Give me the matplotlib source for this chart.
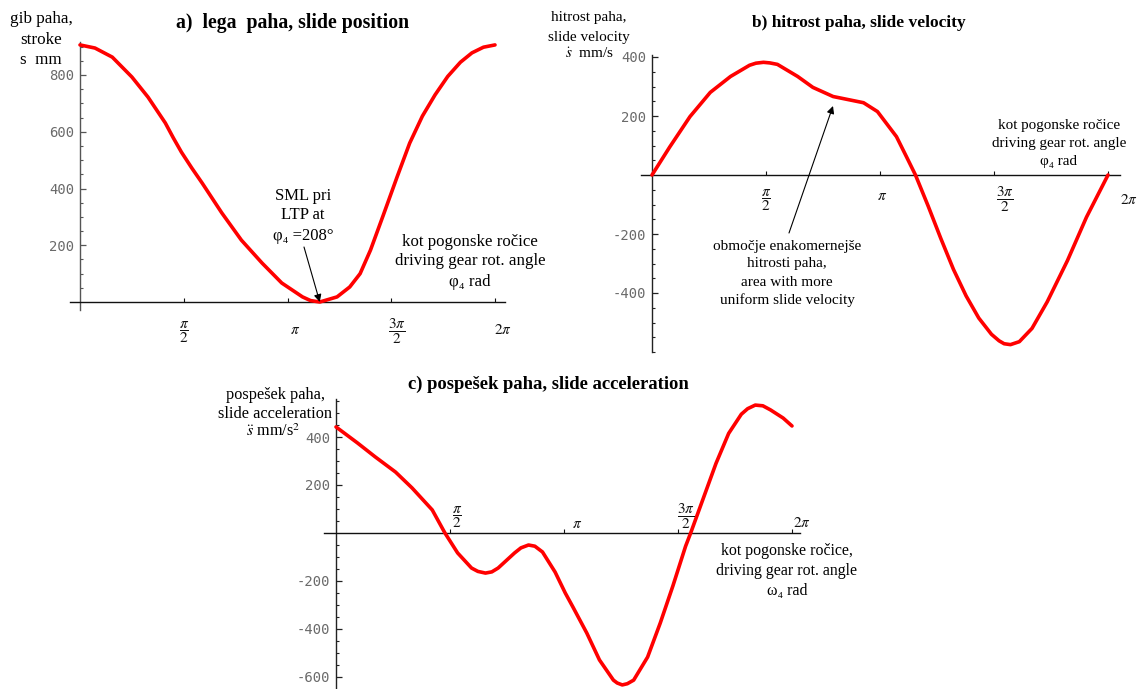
import numpy as np
import matplotlib
matplotlib.use("Agg")
import matplotlib.pyplot as plt
from matplotlib.ticker import FixedLocator

plt.rcParams["font.family"] = ["Liberation Serif", "DejaVu Serif"]
plt.rcParams["mathtext.fontset"] = "stix"
plt.rcParams["axes.unicode_minus"] = False

# ---- slide kinematics over one crank revolution (angle in degrees) ----
pos_angle_deg = [0, 13, 28, 45, 59, 74, 81, 88, 97, 106, 123, 140, 158, 175,
                 193, 200, 208, 223, 234, 243, 252, 263, 275, 286, 297, 308,
                 319, 330, 340, 350, 360]
pos_mm = [906, 895, 863, 793, 722, 631, 578, 528, 472, 419, 314, 218, 137, 67,
          18, 5, 0, 18, 53, 100, 183, 305, 440, 560, 655, 730,
          795, 845, 878, 898, 906]

vel_angle_deg = [0, 14, 30, 46, 62, 77, 82, 88, 93, 99, 115, 127, 143, 159,
                 167, 178, 193, 201, 208, 218, 228, 238, 248, 258, 268, 274,
                 278, 283, 290, 300, 312, 328, 343, 360]
vel_mm_s = [0, 95, 198, 280, 334, 372, 379, 382, 380, 375, 334, 297, 266, 252,
            245, 215, 130, 61, 0, -105, -215, -320, -410, -485, -540, -562,
            -572, -575, -565, -520, -430, -290, -143, 0]

acc_angle_deg = [0, 17, 31, 47, 60, 76, 86, 96, 107, 112, 118, 123, 128, 141,
                 146, 152, 157, 163, 173, 181, 187, 198, 208, 219, 222, 226,
                 230, 235, 246, 256, 266, 276, 280, 290, 300, 310, 320, 325,
                 331, 337, 343, 353, 360]
acc_mm_s2 = [442, 375, 317, 254, 188, 96, 0, -83, -146, -160, -167, -162, -146,
             -83, -62, -50, -55, -79, -163, -250, -308, -417, -529, -613, -625,
             -633, -628, -613, -517, -375, -220, -55, 0, 145, 290, 415, 495,
             518, 533, 530, 513, 479, 446]

ldc_angle_deg = 208  # lower dead centre of the slide

x_tick_values = [np.pi / 2, np.pi, 3 * np.pi / 2, 2 * np.pi]
x_tick_labels = [r"$\dfrac{\pi}{2}$", r"$\pi$", r"$\dfrac{3\pi}{2}$", r"$2\pi$"]
pos_yticks = [200, 400, 600, 800]
vel_yticks = [-400, -200, 200, 400]
acc_yticks = [-600, -400, -200, 200, 400]

W, H = 1138, 689
fig = plt.figure(figsize=(W / 100, H / 100), dpi=100)
fig.patch.set_facecolor("white")

RED = "#ff0000"
TICK_GRAY = "#6a6a6a"


def fpt(px, py):
    return (px / W, 1 - py / H)


def ftext(px, py, s, **kw):
    x, y = fpt(px, py)
    return fig.text(x, y, s, **kw)


def flines(px, ys, lines, **kw):
    # one text object per line so the line pitch is set exactly
    for py, s in zip(ys, lines):
        ftext(px, py, s, ha="center", va="center", **kw)


def make_panel(box, x0_px, x2pi_px, y0_px, yref_px, yref_val,
               yticks, minor_range, axis_color):
    left, right, top, bottom = box
    sx = (x2pi_px - x0_px) / (2 * np.pi)
    sy = (y0_px - yref_px) / yref_val
    ax = fig.add_axes([left / W, 1 - bottom / H, (right - left) / W,
                       (bottom - top) / H])
    ax.set_xlim((left - x0_px) / sx, (right - x0_px) / sx)
    ax.set_ylim((y0_px - bottom) / sy, (y0_px - top) / sy)
    ax.patch.set_visible(False)
    for s in ("top", "right"):
        ax.spines[s].set_visible(False)
    ax.spines["left"].set_position(("data", 0))
    ax.spines["bottom"].set_position(("data", 0))
    ax.spines["left"].set_color(axis_color)
    ax.spines["bottom"].set_color("#111111")
    ax.spines["left"].set_linewidth(1.0)
    ax.spines["bottom"].set_linewidth(1.0)

    ax.set_yticks(yticks, [str(v) for v in yticks])
    lo, hi, step = minor_range
    ax.yaxis.set_minor_locator(FixedLocator(
        [v for v in range(lo, hi + 1, step) if v not in yticks and v != 0]))
    ax.tick_params(axis="y", which="major", direction="in", length=4,
                   width=0.9, color=axis_color, labelsize=10,
                   labelcolor=TICK_GRAY, pad=4,
                   labelfontfamily="DejaVu Sans Mono")
    ax.tick_params(axis="y", which="minor", direction="in", length=2.3,
                   width=0.8, color=axis_color)

    ax.set_xticks(x_tick_values)
    ax.tick_params(axis="x", which="major", direction="in", length=3,
                   width=0.8, color="#111111", labelbottom=False)
    return ax


def tick_text(ax, offsets):
    for val, lab, (dx, dy) in zip(x_tick_values, x_tick_labels, offsets):
        ax.annotate(lab, xy=(val, 0), xytext=(dx, dy),
                    textcoords="offset pixels", ha="center", va="center",
                    fontsize=11, color="#111111")


def curve(ax, ang, vals):
    ax.plot(np.deg2rad(ang), vals, color=RED, lw=2.6,
            solid_capstyle="round", solid_joinstyle="round",
            clip_on=False, zorder=3)


# ---------------- a) slide position ----------------
ax_a = make_panel((70, 505, 42, 310), 80, 495, 302, 75, 800,
                  pos_yticks, (50, 900, 50), "#555555")
curve(ax_a, pos_angle_deg, pos_mm)
tick_text(ax_a, [(0, -30), (8, -28), (6, -30), (8, -28)])

ftext(293, 23, "a)  lega  paha, slide position", ha="center", va="center",
      fontsize=14.2, fontweight="bold")
flines(41, [19, 40, 60], ["gib paha,", "stroke", "s  mm"], fontsize=12.3)
flines(303, [196, 215, 236], ["SML pri", "LTP at", "φ₄ =208°"], fontsize=12)
flines(470, [242, 261, 282],
       ["kot pogonske ročice", "driving gear rot. angle", "φ₄ rad"],
       fontsize=12.2)
ax_a.annotate("", xy=(np.deg2rad(ldc_angle_deg), 0), xycoords="data",
              xytext=fpt(304, 247), textcoords="figure fraction",
              arrowprops=dict(arrowstyle="-|>", color="black", lw=0.8,
                              mutation_scale=11, shrinkA=0, shrinkB=0))

# ---------------- b) slide velocity ----------------
ax_b = make_panel((641, 1120, 55, 352), 652, 1108, 175, 57, 400,
                  vel_yticks, (-600, 400, 50), "#222222")
curve(ax_b, vel_angle_deg, vel_mm_s)
tick_text(ax_b, [(0, -25), (2, -22), (11, -25), (21, -25)])

ftext(859, 23, "b) hitrost paha, slide velocity", ha="center", va="center",
      fontsize=12.5, fontweight="bold")
flines(589, [18, 37, 54],
       ["hitrost paha,", "slide velocity", r"$\dot{s}$" + "  mm/s"],
       fontsize=11)
flines(1059, [126, 143, 161],
       ["kot pogonske ročice", "driving gear rot. angle", "φ₄ rad"],
       fontsize=10.9)
flines(787, [247, 264, 282, 300],
       ["območje enakomernejše", "hitrosti paha,", "area with more",
        "uniform slide velocity"], fontsize=11)
ax_b.annotate("", xy=fpt(833, 106), xycoords="figure fraction",
              xytext=fpt(789, 233), textcoords="figure fraction",
              arrowprops=dict(arrowstyle="-|>", color="black", lw=0.8,
                              mutation_scale=11, shrinkA=0, shrinkB=0))

# ---------------- c) slide acceleration ----------------
ax_c = make_panel((324, 800, 399, 688), 336, 792, 533, 437, 400,
                  acc_yticks, (-650, 550, 50), "#222222")
curve(ax_c, acc_angle_deg, acc_mm_s2)
tick_text(ax_c, [(7, 16), (13, 9), (8, 16), (10, 10)])

ftext(548, 384, "c) pospešek paha, slide acceleration", ha="center",
      va="center", fontsize=13.4, fontweight="bold")
flines(275, [395, 414], ["pospešek paha,", "slide acceleration"],
       fontsize=11.7)
ftext(300, 432, r"$\ddot{s}$" + r" mm/s$^2$", ha="right", va="center",
      fontsize=11.7)
flines(787, [551, 571, 591],
       ["kot pogonske ročice,", "driving gear rot. angle", "ω₄ rad"],
       fontsize=11.4)

fig.savefig("out.png", dpi=100, facecolor="white")
